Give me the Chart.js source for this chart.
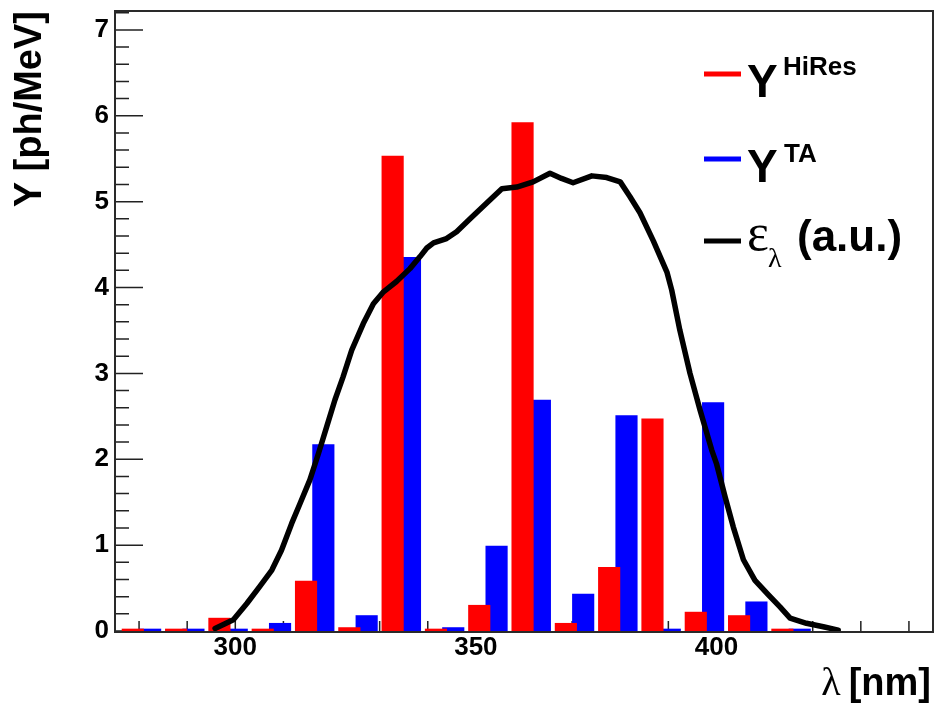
<!DOCTYPE html>
<html>
<head>
<meta charset="utf-8">
<script src="https://cdn.jsdelivr.net/npm/chart.js@4/dist/chart.umd.min.js"></script>
<style>
  html, body { margin: 0; padding: 0; background: #ffffff; }
  canvas { display: block; }
</style>
</head>
<body>
<canvas id="chart" width="935" height="706"></canvas>
<script>
// Wavelength bands: lower edge of each 9 nm bin (nm)
const binLow = [275, 284, 293, 302, 311, 320, 329, 338, 347, 356, 365, 374, 383, 392, 401, 410];
// Fluorescence yield per band (photons / MeV)
const yieldHiRes = [0, 0, 0.15, 0, 0.58, 0.04, 5.53, 0.02, 0.30, 5.92, 0.09, 0.74, 2.47, 0.22, 0.18, 0];
const yieldTA    = [0, 0, 0, 0.09, 2.17, 0.18, 4.35, 0.04, 0.99, 2.69, 0.43, 2.51, 0, 2.66, 0.34, 0];
// Detector efficiency vs wavelength (arbitrary units)
const effWavelength = [295.8, 299.6, 302.4, 305.1, 307.6, 309.6, 311.7, 313.5, 315.5, 317.3,
  319.0, 320.7, 322.4, 324.2, 326.6, 328.7, 330.8, 333.5, 336.3, 338.4,
  339.8, 341.2, 343.9, 346.0, 348.8, 352.2, 355.4, 358.5, 361.9, 365.4,
  367.8, 370.2, 374.1, 377.2, 380.0, 382.0, 384.1, 386.9, 389.7, 390.7,
  392.4, 394.5, 396.6, 399.0, 400.0, 401.8, 403.5, 405.6, 408.0, 410.8,
  413.2, 415.3, 418.7, 422.2, 425.3];
const effValue = [0.03, 0.13, 0.32, 0.52, 0.71, 0.94, 1.25, 1.49, 1.76, 2.07,
  2.38, 2.69, 2.96, 3.27, 3.58, 3.81, 3.95, 4.07, 4.22, 4.36,
  4.46, 4.52, 4.57, 4.65, 4.80, 4.98, 5.15, 5.17, 5.23, 5.33,
  5.27, 5.22, 5.30, 5.28, 5.23, 5.06, 4.87, 4.54, 4.18, 3.97,
  3.50, 3.00, 2.57, 2.11, 1.95, 1.56, 1.21, 0.83, 0.59, 0.42,
  0.28, 0.15, 0.09, 0.05, 0.01];
// Labelled ticks
const xTickLabels = [300, 350, 400];
const yTickLabels = [0, 1, 2, 3, 4, 5, 6, 7];

// Bar placement inside each bin (nm from the lower edge) and styling
const HIRES_SHIFT = 3.7;
const TA_SHIFT = 7.3;
const BAR_PX = 21.5;
const RED = '#ff0000';
const BLUE = '#0000ff';
const SANS = '"Liberation Sans", Arial, Helvetica, sans-serif';
const SERIF = '"Liberation Serif", "Times New Roman", serif';

const hiResPoints = binLow.map((lo, i) => ({ x: lo + HIRES_SHIFT, y: yieldHiRes[i] }));
const taPoints = binLow.map((lo, i) => ({ x: lo + TA_SHIFT, y: yieldTA[i] }));
const effPoints = effWavelength.map((w, i) => ({ x: w, y: effValue[i] }));

// Inward ticks, frame box, legend and the x-axis title
const rootStyle = {
  id: 'rootStyle',
  beforeDatasetsDraw(chart) {
    const { ctx, chartArea: a, scales: { x, y } } = chart;
    ctx.save();
    ctx.strokeStyle = '#222';
    ctx.lineWidth = 1.5;
    ctx.beginPath();
    for (let i = 0; i / 5 <= y.max; i++) {
      const p = y.getPixelForValue(i / 5);
      const len = (i % 5 === 0) ? 28 : 14;
      ctx.moveTo(a.left, p);
      ctx.lineTo(a.left + len, p);
    }
    for (let v = 280; v <= x.max; v += 10) {
      const p = x.getPixelForValue(v);
      ctx.moveTo(p, a.bottom);
      ctx.lineTo(p, a.bottom - 10);
    }
    ctx.stroke();
    ctx.restore();
  },
  afterDatasetsDraw(chart) {
    const { ctx, chartArea: a } = chart;
    ctx.save();
    ctx.strokeStyle = '#2a2a2a';
    ctx.lineWidth = 2;
    ctx.strokeRect(a.left, a.top, a.right - a.left, a.bottom - a.top + 1);
    ctx.restore();
  },
  afterDraw(chart) {
    const { ctx, chartArea: a } = chart;
    ctx.save();
    ctx.fillStyle = '#000';
    ctx.textBaseline = 'alphabetic';
    ctx.textAlign = 'left';

    // legend
    const lx0 = a.right - 229, lx1 = a.right - 192, tx = a.right - 186, sx = a.right - 150;
    ctx.lineWidth = 5;
    const seg = (color, yy) => {
      ctx.strokeStyle = color;
      ctx.beginPath();
      ctx.moveTo(lx0, yy);
      ctx.lineTo(lx1, yy);
      ctx.stroke();
    };
    seg(RED, 74);
    seg(BLUE, 159);
    seg('#000', 241);

    ctx.font = 'bold 46px ' + SANS;
    ctx.fillText('Y', tx, 97);
    ctx.fillText('Y', tx, 182);
    ctx.font = 'bold 26px ' + SANS;
    ctx.fillText('HiRes', sx, 75);
    ctx.fillText('TA', sx + 1, 162);

    ctx.font = '52px ' + SERIF;
    ctx.fillText('\u03B5', tx, 250);
    ctx.font = '28px ' + SERIF;
    ctx.fillText('\u03BB', tx + 21, 267);
    ctx.font = 'bold 44px ' + SANS;
    ctx.fillText('(a.u.)', tx + 50, 251);

    // x-axis title
    ctx.textAlign = 'right';
    ctx.font = 'bold 38px ' + SANS;
    ctx.fillText('[nm]', 931, 695);
    const w = ctx.measureText('[nm]').width;
    ctx.font = '40px ' + SERIF;
    ctx.fillText('\u03BB', 931 - w - 8, 695);
    ctx.restore();
  }
};

new Chart(document.getElementById('chart'), {
  type: 'bar',
  data: {
    datasets: [
      {
        type: 'line',
        label: 'efficiency',
        data: effPoints,
        borderColor: '#000',
        borderWidth: 5.5,
        pointRadius: 0,
        tension: 0,
        borderJoinStyle: 'round',
        borderCapStyle: 'round',
        order: 0
      },
      {
        label: 'HiRes',
        data: hiResPoints,
        backgroundColor: RED,
        borderWidth: 0,
        barThickness: BAR_PX,
        grouped: false,
        minBarLength: 2,
        clip: 0,
        order: 1
      },
      {
        label: 'TA',
        data: taPoints,
        backgroundColor: BLUE,
        borderWidth: 0,
        barThickness: BAR_PX,
        grouped: false,
        minBarLength: 2,
        clip: 0,
        order: 2
      }
    ]
  },
  options: {
    responsive: false,
    animation: false,
    devicePixelRatio: 1,
    layout: { padding: { top: 11, right: 2, left: 0, bottom: 0 } },
    plugins: { legend: { display: false }, tooltip: { enabled: false } },
    scales: {
      x: {
        type: 'linear',
        min: 275,
        max: 445,
        offset: false,
        grid: { display: false, drawTicks: false },
        border: { display: false },
        ticks: {
          autoSkip: false,
          maxRotation: 0,
          padding: 1,
          color: '#000',
          font: { family: SANS, size: 26, weight: 'bold' }
        },
        afterBuildTicks(scale) { scale.ticks = xTickLabels.map(v => ({ value: v })); },
        afterFit(scale) {
          scale.height = 75;
          scale.paddingLeft = 0;
          scale.paddingRight = 0;
        }
      },
      y: {
        type: 'linear',
        min: 0,
        max: 7.22,
        grid: { display: false, drawTicks: false },
        border: { display: false },
        ticks: {
          padding: 6,
          color: '#000',
          font: { family: SANS, size: 26, weight: 'bold' }
        },
        afterBuildTicks(scale) { scale.ticks = yTickLabels.map(v => ({ value: v })); },
        afterFit(scale) {
          scale.width = 115;
          scale.paddingTop = 0;
          scale.paddingBottom = 0;
        },
        title: {
          display: true,
          text: 'Y [ph/MeV]',
          align: 'end',
          color: '#000',
          padding: { top: 8, bottom: 0 },
          font: { family: SANS, size: 38, weight: 'bold' }
        }
      }
    }
  },
  plugins: [rootStyle]
});
</script>
</body>
</html>
